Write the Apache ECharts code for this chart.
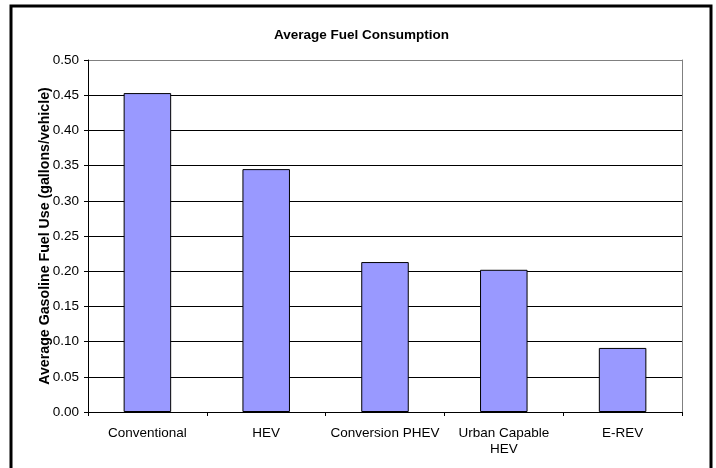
<!DOCTYPE html>
<html>
<head>
<meta charset="utf-8">
<script src="https://cdn.jsdelivr.net/npm/echarts@6/dist/echarts.min.js"></script>
<style>
  html, body { margin: 0; padding: 0; background: #fff; }
  #chart { width: 716px; height: 468px; }
</style>
</head>
<body>
<div id="chart"></div>
<script>
// data
const categories = ['Conventional', 'HEV', 'Conversion PHEV', 'Urban Capable\nHEV', 'E-REV']
const fuelUse = [0.453, 0.345, 0.213, 0.202, 0.091]

const FONT = 'Arial, "Liberation Sans", sans-serif'

const chart = echarts.init(document.getElementById('chart'))

// gridlines black, top one grey (plot area border)
const gridColors = ['#000', '#000', '#000', '#000', '#000', '#000', '#000', '#000', '#000', '#000', '#808080']

const option = {
  animation: false,
  backgroundColor: '#fff',
  title: {
    text: 'Average Fuel Consumption',
    left: 269,
    top: 23,
    textStyle: {
      fontFamily: FONT,
      fontSize: 13.5,
      fontWeight: 'bold',
      color: '#000'
    }
  },
  grid: {
    left: 88,
    right: 34,
    top: 60,
    bottom: 56
  },
  xAxis: {
    type: 'category',
    data: categories,
    axisLine: { lineStyle: { color: '#000', width: 1 } },
    axisTick: { show: true, length: 4, lineStyle: { color: '#000' } },
    axisLabel: {
      fontFamily: FONT,
      fontSize: 13.5,
      color: '#000',
      margin: 13,
      lineHeight: 16,
      interval: 0
    }
  },
  yAxis: [
    {
      type: 'value',
      min: 0,
      max: 0.5,
      interval: 0.05,
      name: 'Average Gasoline Fuel Use (gallons/vehicle)',
      nameLocation: 'middle',
      nameGap: 36,
      nameMoveOverlap: false,
      nameTextStyle: {
        fontFamily: FONT,
        fontSize: 14.2,
        fontWeight: 'bold',
        color: '#000'
      },
      axisLine: { show: true, lineStyle: { color: '#000', width: 1 } },
      axisTick: { show: true, length: 4, lineStyle: { color: '#000' } },
      axisLabel: {
        fontFamily: FONT,
        fontSize: 13.5,
        color: '#000',
        margin: 9,
        formatter: v => v.toFixed(2)
      },
      splitLine: { show: true, lineStyle: { color: gridColors, width: 1 } }
    },
    {
      // right border of plot area
      type: 'value',
      position: 'right',
      min: 0,
      max: 0.5,
      axisLine: { show: true, lineStyle: { color: '#808080', width: 1 } },
      axisTick: { show: false },
      axisLabel: { show: false },
      splitLine: { show: false }
    }
  ],
  series: [
    {
      type: 'bar',
      data: fuelUse,
      barWidth: '40%',
      itemStyle: {
        color: '#9999FF',
        borderColor: '#000',
        borderWidth: 1
      }
    }
  ],
  graphic: [
    {
      type: 'rect',
      shape: { x: 11, y: 6, width: 700, height: 480 },
      style: { fill: null, stroke: '#000', lineWidth: 3 },
      silent: true
    }
  ]
}

chart.setOption(option)
</script>
</body>
</html>
